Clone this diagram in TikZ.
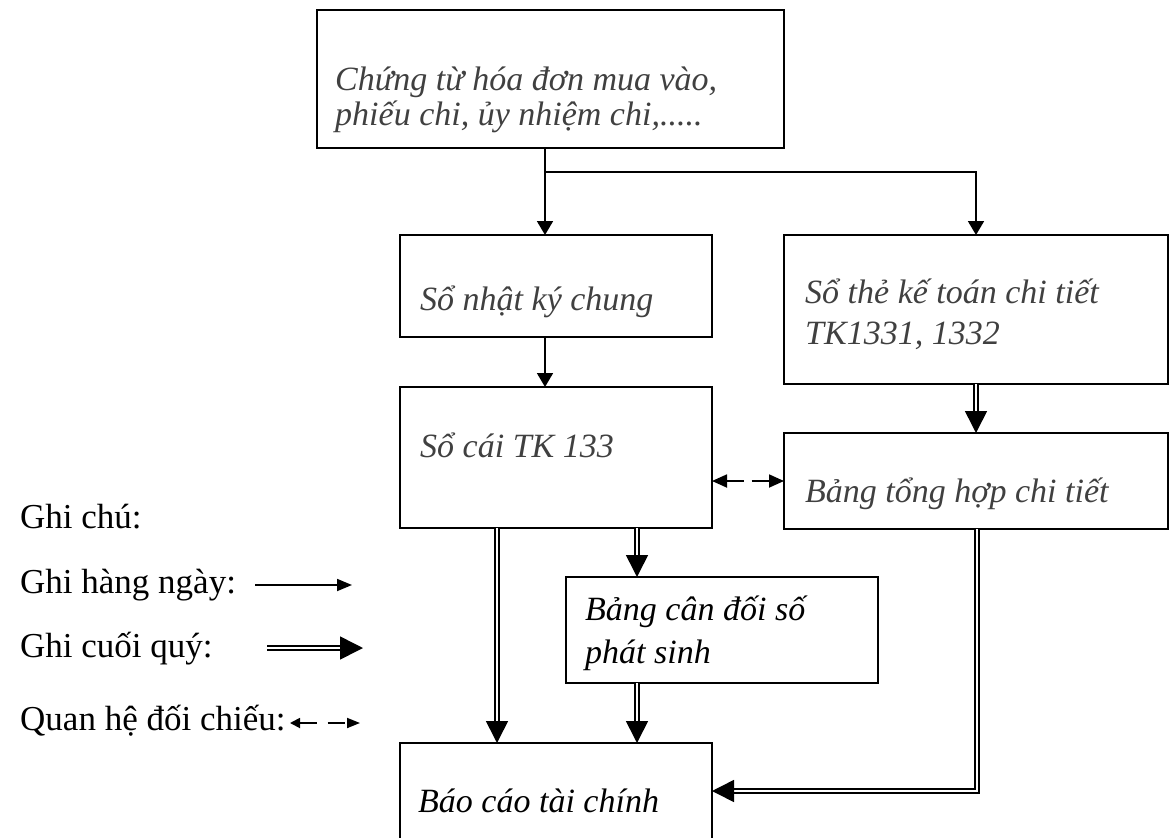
\documentclass[tikz,border=0pt]{standalone}
\usepackage{fontspec}
\setmainfont{Liberation Serif}
\usetikzlibrary{arrows.meta,calc}
\definecolor{inkgray}{HTML}{404040}
\begin{document}
\begin{tikzpicture}[x=1pt,y=-1pt,
  box/.style={draw, line width=1.8pt, inner sep=0pt, outer sep=0pt, anchor=north west},
  txt/.style={anchor=base west, inner sep=0pt, font=\fontsize{34}{40}\selectfont\itshape, text=inkgray},
  txtb/.style={txt, text=black},
  leg/.style={anchor=base west, inner sep=0pt, font=\fontsize{35}{40}\selectfont},
  daily/.style={line width=1.8pt, -{Triangle[width=16pt,length=14pt]}},
  quarter/.style={double, line width=1.6pt, double distance=2.8pt, -{Triangle[width=22pt,length=22pt]}},
  cmp/.style={line width=1.8pt, dash pattern=on 17pt off 8pt,
    {Triangle[width=13pt,length=15pt]}-{Triangle[width=13pt,length=15pt]}},
]
\useasboundingbox (0,0) rectangle (1170,838);

% boxes
\node[box, minimum width=467pt, minimum height=138pt] (src) at (317,10) {};
\node[box, minimum width=312pt, minimum height=102pt] (nkc) at (400,235) {};
\node[box, minimum width=384pt, minimum height=149pt] (sct) at (784,235) {};
\node[box, minimum width=312pt, minimum height=141pt] (sc) at (400,387) {};
\node[box, minimum width=384pt, minimum height=96pt] (thct) at (784,433) {};
\node[box, minimum width=312pt, minimum height=106pt] (cdps) at (566,577) {};
\node[box, minimum width=312pt, minimum height=140pt] (bctc) at (400,743) {};

% box texts
\node[txt] (src1) at (335,90) {Chứng từ hóa đơn mua vào,};
\node[txt] (src2) at (335,125) {phiếu chi, ủy nhiệm chi,.....};
\node[txt] (nkct) at (420,310) {Sổ nhật ký chung};
\node[txt] (sct1) at (805,303) {Sổ thẻ kế toán chi tiết};
\node[txt] (sct2) at (805,344) {TK1331, 1332};
\node[txt] (sct3) at (420,457) {Sổ cái TK 133};
\node[txt] (thctt) at (805,502) {Bảng tổng hợp chi tiết};
\node[txtb] (cd1) at (585,620) {Bảng cân đối số};
\node[txtb] (cd2) at (585,663) {phát sinh};
\node[txtb] (bct) at (418,812) {Báo cáo tài chính};

% reference columns and bends
\coordinate (colA) at (545,0);
\coordinate (split) at (545,172);
\coordinate (colB) at (497,0);
\coordinate (colC) at (637,0);
\coordinate (bend) at (977,791);

% daily postings
\draw[line width=1.8pt] (src.south -| colA) -- (split);
\draw[daily] (split) -- (nkc.north -| colA);
\draw[daily] (split) -- (split -| sct.north) -- (sct.north);
\draw[daily] (nkc.south -| colA) -- (sc.north -| colA);

% quarterly postings
\draw[quarter] (sct.south) -- (thct.north);
\draw[quarter] (sc.south -| colB) -- (bctc.north -| colB);
\draw[quarter] (sc.south -| colC) -- (cdps.north -| colC);
\draw[quarter] (cdps.south -| colC) -- (bctc.north -| colC);
\draw[quarter] (thct.south -| bend) -- (bend) -- (bctc.east |- bend);

% cross-check
\draw[cmp] (sc.east |- thct.west) -- (thct.west);

% legend
\node[leg] (lg0) at (20,528) {Ghi chú:};
\node[leg] (lg1) at (20,593) {Ghi hàng ngày:};
\node[leg] (lg2) at (20,657) {Ghi cuối quý:};
\node[leg] (lg3) at (20,730) {Quan hệ đối chiếu:};
\coordinate (l1a) at (255,585);
\coordinate (l1b) at (352,585);
\coordinate (l2a) at (267,648);
\coordinate (l2b) at (363,648);
\coordinate (l3a) at (290,723);
\coordinate (l3b) at (360,723);
\draw[line width=1.8pt, -{Triangle[width=12pt,length=15pt]}] (l1a) -- (l1b);
\draw[double, line width=1.6pt, double distance=2.8pt, -{Triangle[width=23pt,length=23pt]}] (l2a) -- (l2b);
\draw[line width=1.8pt, dash pattern=on 17pt off 11pt,
  {Triangle[width=10pt,length=10pt]}-{Triangle[width=10pt,length=13pt]}] (l3a) -- (l3b);
\end{tikzpicture}
\end{document}
